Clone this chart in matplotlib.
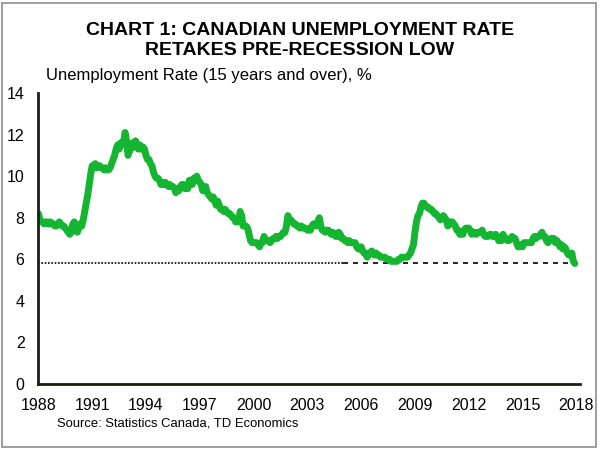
import numpy as np
import matplotlib.pyplot as plt
from matplotlib.patches import Rectangle

plt.rcParams['font.family'] = ['Liberation Sans', 'DejaVu Sans']

# Monthly unemployment rate (15+, %), Jan 1988 - Dec 2017
rate = [
    8.2, 7.9, 7.8, 7.8, 7.7, 7.8, 7.8, 7.7, 7.8, 7.7, 7.7, 7.6,   # 1988
    7.6, 7.7, 7.8, 7.7, 7.6, 7.6, 7.5, 7.4, 7.3, 7.2, 7.3, 7.7,   # 1989
    7.8, 7.4, 7.3, 7.5, 7.7, 7.6, 7.9, 8.3, 8.7, 9.1, 9.6, 10.1,  # 1990
    10.5, 10.5, 10.6, 10.4, 10.5, 10.5, 10.4, 10.4, 10.3, 10.4, 10.3, 10.3,  # 1991
    10.4, 10.6, 10.8, 11.0, 11.3, 11.5, 11.3, 11.6, 11.5, 11.6, 12.1, 11.7,  # 1992
    11.0, 11.2, 11.4, 11.6, 11.4, 11.7, 11.5, 11.3, 11.5, 11.3, 11.4, 11.3,  # 1993
    11.0, 10.8, 10.8, 10.6, 10.5, 10.2, 10.0, 9.9, 9.9, 9.8, 9.6, 9.7,  # 1994
    9.6, 9.7, 9.6, 9.5, 9.6, 9.5, 9.5, 9.4, 9.2, 9.4, 9.3, 9.5,   # 1995
    9.6, 9.6, 9.4, 9.5, 9.4, 9.8, 9.8, 9.6, 9.9, 9.9, 10.0, 9.8,  # 1996
    9.7, 9.6, 9.3, 9.4, 9.5, 9.2, 9.1, 9.0, 8.9, 9.0, 8.8, 8.6,   # 1997
    8.8, 8.6, 8.4, 8.4, 8.3, 8.4, 8.3, 8.2, 8.2, 8.1, 8.0, 8.0,   # 1998
    7.8, 7.8, 7.8, 8.3, 8.1, 7.6, 7.6, 7.6, 7.5, 7.2, 6.9, 6.8,   # 1999
    6.8, 6.8, 6.8, 6.7, 6.6, 6.8, 6.8, 7.1, 6.9, 6.9, 6.9, 6.8,   # 2000
    6.9, 7.0, 7.0, 7.1, 7.0, 7.1, 7.1, 7.2, 7.3, 7.3, 7.6, 8.1,   # 2001
    7.9, 7.9, 7.8, 7.7, 7.7, 7.6, 7.6, 7.5, 7.6, 7.5, 7.5, 7.5,   # 2002
    7.4, 7.4, 7.4, 7.6, 7.7, 7.7, 7.6, 7.8, 8.0, 7.6, 7.4, 7.4,   # 2003
    7.3, 7.4, 7.4, 7.3, 7.2, 7.3, 7.2, 7.1, 7.1, 7.3, 7.2, 7.0,   # 2004
    7.0, 6.9, 6.9, 6.8, 6.9, 6.8, 6.8, 6.8, 6.8, 6.6, 6.5, 6.5,   # 2005
    6.6, 6.4, 6.3, 6.3, 6.1, 6.2, 6.3, 6.4, 6.3, 6.2, 6.3, 6.2,   # 2006
    6.2, 6.1, 6.1, 6.1, 6.1, 6.0, 6.0, 6.0, 5.9, 5.9, 5.9, 5.9,   # 2007
    5.9, 6.0, 6.0, 6.1, 6.1, 6.1, 6.1, 6.1, 6.2, 6.3, 6.5, 6.7,   # 2008
    7.3, 7.8, 8.1, 8.2, 8.5, 8.7, 8.7, 8.6, 8.5, 8.5, 8.4, 8.4,   # 2009
    8.3, 8.2, 8.2, 8.1, 8.0, 7.9, 8.0, 8.1, 8.0, 7.9, 7.6, 7.7,   # 2010
    7.8, 7.8, 7.7, 7.6, 7.4, 7.4, 7.2, 7.3, 7.2, 7.4, 7.5, 7.5,   # 2011
    7.5, 7.4, 7.2, 7.3, 7.3, 7.2, 7.3, 7.3, 7.3, 7.4, 7.2, 7.1,   # 2012
    7.1, 7.1, 7.2, 7.2, 7.1, 7.1, 7.2, 7.1, 6.9, 6.9, 6.9, 7.2,   # 2013
    7.0, 7.0, 6.9, 6.9, 7.0, 7.1, 7.0, 7.0, 6.8, 6.6, 6.6, 6.7,   # 2014
    6.6, 6.8, 6.8, 6.8, 6.8, 6.8, 6.8, 7.0, 7.1, 7.0, 7.1, 7.1,   # 2015
    7.2, 7.3, 7.1, 7.1, 6.9, 6.8, 6.9, 7.0, 7.0, 7.0, 6.8, 6.9,   # 2016
    6.8, 6.6, 6.7, 6.5, 6.6, 6.5, 6.3, 6.2, 6.2, 6.3, 5.9, 5.8,   # 2017
]
start_year = 1988
pre_recession_low = 5.8
dash_switch_year = 2005
year_ticks = list(range(1988, 2019, 3))
y_ticks = list(range(0, 15, 2))

dates = start_year + np.arange(len(rate)) / 12

fig = plt.figure(figsize=(6, 4.5), dpi=100)
fig.patches.append(Rectangle((0.004, 0.006), 0.99, 0.987, transform=fig.transFigure,
                             fill=False, edgecolor='#8c8c8c', linewidth=1.2))
ax = fig.add_axes([0.064, 0.1467, 0.9025, 0.6466])

# pre-recession low reference line
ax.plot([start_year, dash_switch_year], [pre_recession_low] * 2, color='black',
        linestyle=(0, (1, 1)), linewidth=1.2)
ax.plot([dash_switch_year, dates[-1]], [pre_recession_low] * 2, color='black',
        linestyle=(0, (3, 3)), linewidth=1.2)
ax.plot(dates, rate, color='#14b531', linewidth=5, solid_joinstyle='round',
        solid_capstyle='round')

ax.set_xlim(start_year, 2018.2)
ax.set_ylim(0, 14)
ax.set_xticks(year_ticks)
ax.set_yticks(y_ticks)
ax.tick_params(length=0, labelsize=11.5)
ax.tick_params(axis='x', pad=10)
ax.tick_params(axis='y', pad=10)
for side in ['top', 'right']:
    ax.spines[side].set_visible(False)
for side in ['left', 'bottom']:
    ax.spines[side].set_linewidth(2)
    ax.spines[side].set_color('#1a1f14')

fig.text(0.5, 0.91, 'CHART 1: CANADIAN UNEMPLOYMENT RATE\nRETAKES PRE-RECESSION LOW',
         ha='center', va='center', fontsize=14, fontweight='bold', linespacing=1.2)
fig.text(0.077, 0.833, 'Unemployment Rate (15 years and over), %', fontsize=12,
         va='center')
fig.text(0.095, 0.058, 'Source: Statistics Canada, TD Economics', fontsize=9.4,
         va='center')

fig.savefig('out.png', dpi=100)
